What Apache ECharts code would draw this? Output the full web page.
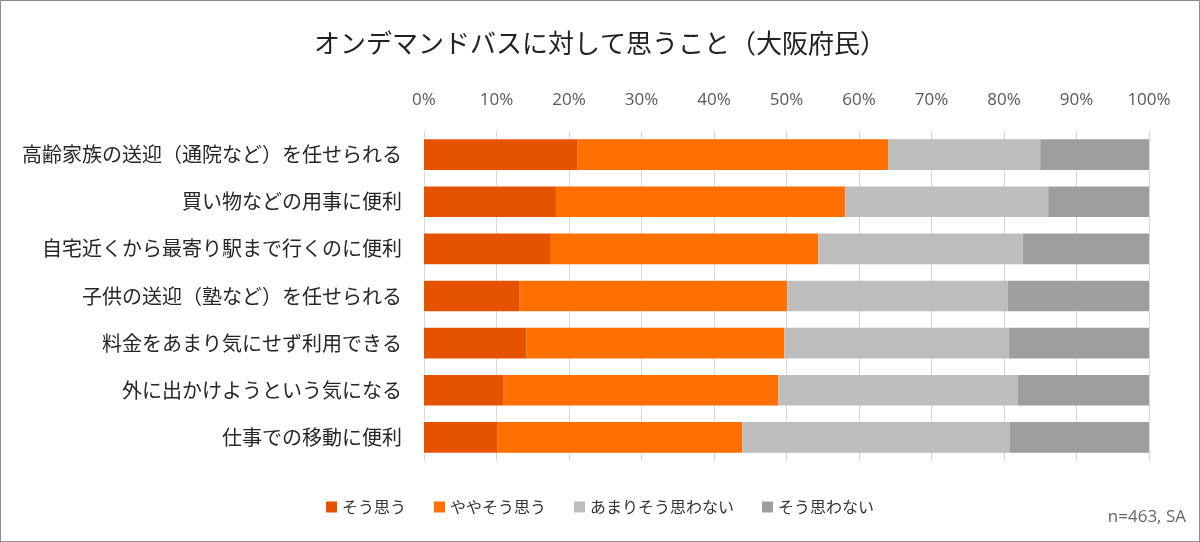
<!DOCTYPE html>
<html lang="ja">

<head>
  <meta charset="UTF-8">
  <title>オンデマンドバス</title>
  <script src="https://cdn.jsdelivr.net/npm/echarts@6/dist/echarts.min.js"></script>
  <style>
    html, body { margin: 0; padding: 0; background: #fff; }
    #chart { width: 1200px; height: 542px; box-sizing: border-box; border: 1px solid #8c8c8c; }
  </style>
</head>

<body>
  <div id="chart"></div>
</body>
<script>
  // 項目（上から順）
  const categories = [
    '高齢家族の送迎（通院など）を任せられる',
    '買い物などの用事に便利',
    '自宅近くから最寄り駅まで行くのに便利',
    '子供の送迎（塾など）を任せられる',
    '料金をあまり気にせず利用できる',
    '外に出かけようという気になる',
    '仕事での移動に便利'
  ]
  const seriesNames = ['そう思う', 'ややそう思う', 'あまりそう思わない', 'そう思わない']
  // 割合（%）
  const agree = [21.2, 18.2, 17.5, 13.2, 14.1, 11.0, 10.1]
  const someAgree = [42.8, 39.9, 36.9, 36.9, 35.6, 37.9, 33.8]
  const notMuch = [21.0, 28.0, 28.2, 30.4, 31.0, 33.0, 36.9]
  const disagree = [15.0, 13.9, 17.4, 19.5, 19.3, 18.1, 19.2]
  const colors = ['#e55300', '#ff7000', '#bdbdbd', '#9e9e9e']

  const jp = '"Noto Sans CJK JP", "Noto Sans", sans-serif'
  let myCharts = echarts.init(document.getElementById('chart'))

  let option = {
    color: colors,
    title: {
      text: 'オンデマンドバスに対して思うこと（大阪府民）',
      left: 'center',
      top: 24,
      textStyle: { fontFamily: jp, fontSize: 26, fontWeight: 'normal', color: '#222' }
    },
    legend: {
      data: seriesNames,
      bottom: 21,
      left: 'center',
      itemWidth: 11,
      itemHeight: 11,
      itemGap: 28,
      icon: 'rect',
      textStyle: { fontFamily: jp, fontSize: 16, color: '#333' }
    },
    grid: { left: 423, right: 50, top: 130, bottom: 80 },
    xAxis: {
      type: 'value',
      position: 'top',
      min: 0,
      max: 100,
      interval: 10,
      axisLabel: { formatter: '{value}%', fontFamily: '"Open Sans", sans-serif', fontSize: 17, color: '#595959', margin: 22 },
      axisLine: { show: false },
      axisTick: { show: false },
      splitLine: { lineStyle: { color: '#d9d9d9' } }
    },
    yAxis: {
      type: 'category',
      inverse: true,
      data: categories,
      axisLine: { show: false },
      axisTick: { show: false },
      axisLabel: { fontFamily: jp, fontSize: 20, color: '#262626', margin: 22 }
    },
    series: [agree, someAgree, notMuch, disagree].map((d, i) => ({
      name: seriesNames[i],
      type: 'bar',
      stack: 'total',
      barCategoryGap: '35%',
      data: d
    })),
    graphic: [{
      type: 'text',
      right: 13,
      bottom: 15,
      style: { text: 'n=463, SA', font: '17px "Open Sans", sans-serif', fill: '#666' }
    }]
  }
  myCharts.setOption(option)
</script>

</html>
